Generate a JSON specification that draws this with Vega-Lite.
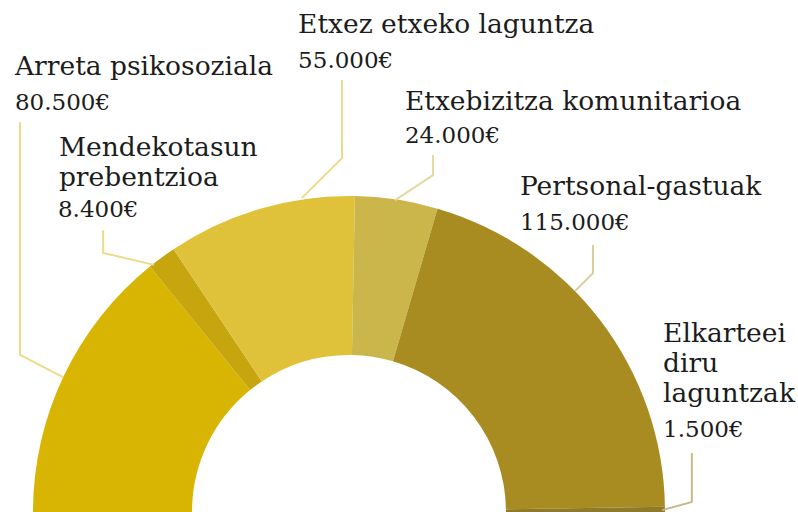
{
  "$schema": "https://vega.github.io/schema/vega-lite/v6.json",
  "width": 798,
  "height": 512,
  "autosize": {"type": "none"},
  "padding": 0,
  "background": "white",
  "view": {"stroke": null},
  "datasets": {
    "slices": [
      {"rank": 1, "category": "Arreta psikosoziala", "amount": 80500},
      {"rank": 2, "category": "Mendekotasun prebentzioa", "amount": 8400},
      {"rank": 3, "category": "Etxez etxeko laguntza", "amount": 55000},
      {"rank": 4, "category": "Etxebizitza komunitarioa", "amount": 24000},
      {"rank": 5, "category": "Pertsonal-gastuak", "amount": 115000},
      {"rank": 6, "category": "Elkarteei diru laguntzak", "amount": 1500}
    ],
    "leaders": [
      {"seg": "Arreta psikosoziala", "k": 0, "u": -104.1, "v": 123.4},
      {"seg": "Arreta psikosoziala", "k": 1, "u": -104.1, "v": 49.7},
      {"seg": "Arreta psikosoziala", "k": 2, "u": -90.5, "v": 42.7},
      {"seg": "Mendekotasun prebentzioa", "k": 0, "u": -77.8, "v": 89.2},
      {"seg": "Mendekotasun prebentzioa", "k": 1, "u": -77.8, "v": 82.0},
      {"seg": "Mendekotasun prebentzioa", "k": 2, "u": -61.7, "v": 78.2},
      {"seg": "Etxez etxeko laguntza", "k": 0, "u": -2.2, "v": 136.7},
      {"seg": "Etxez etxeko laguntza", "k": 1, "u": -2.2, "v": 112.0},
      {"seg": "Etxez etxeko laguntza", "k": 2, "u": -14.9, "v": 99.4},
      {"seg": "Etxebizitza komunitarioa", "k": 0, "u": 26.6, "v": 113.0},
      {"seg": "Etxebizitza komunitarioa", "k": 1, "u": 26.6, "v": 106.6},
      {"seg": "Etxebizitza komunitarioa", "k": 2, "u": 14.6, "v": 98.7},
      {"seg": "Pertsonal-gastuak", "k": 0, "u": 77.2, "v": 84.5},
      {"seg": "Pertsonal-gastuak", "k": 1, "u": 77.2, "v": 75.6},
      {"seg": "Pertsonal-gastuak", "k": 2, "u": 71.5, "v": 69.9},
      {"seg": "Elkarteei diru laguntzak", "k": 0, "u": 108.5, "v": 18.7},
      {"seg": "Elkarteei diru laguntzak", "k": 1, "u": 108.5, "v": 3.2},
      {"seg": "Elkarteei diru laguntzak", "k": 2, "u": 99.1, "v": 0.6}
    ],
    "names": [
      {"t": "Arreta psikosoziala", "u": -105.7, "v": 138.3},
      {"t": "Mendekotasun", "u": -91.8, "v": 112.7},
      {"t": "prebentzioa", "u": -91.8, "v": 103.2},
      {"t": "Etxez etxeko laguntza", "u": -16.1, "v": 151.6},
      {"t": "Etxebizitza komunitarioa", "u": 17.7, "v": 127.2},
      {"t": "Pertsonal-gastuak", "u": 54.1, "v": 100.3},
      {"t": "Elkarteei", "u": 99.4, "v": 53.8},
      {"t": "diru", "u": 99.4, "v": 44.3},
      {"t": "laguntzak", "u": 99.4, "v": 34.8}
    ],
    "values": [
      {"t": "80.500€", "u": -105.7, "v": 127.2},
      {"t": "8.400€", "u": -92.1, "v": 93.4},
      {"t": "55.000€", "u": -16.1, "v": 140.5},
      {"t": "24.000€", "u": 17.7, "v": 116.8},
      {"t": "115.000€", "u": 54.1, "v": 89.2},
      {"t": "1.500€", "u": 99.4, "v": 23.7}
    ]
  },
  "layer": [
    {
      "data": {"name": "slices"},
      "mark": {"type": "arc", "outerRadius": 316, "innerRadius": 157},
      "encoding": {
        "x": {"datum": 0, "type": "quantitative", "scale": {"domain": [-110.44, 142.09], "nice": false, "zero": false}, "axis": null},
        "y": {"datum": 0, "type": "quantitative", "scale": {"domain": [0, 162.03], "nice": false, "zero": false}, "axis": null},
        "theta": {"field": "amount", "type": "quantitative", "stack": true, "scale": {"range": [-1.5708, 1.5708]}},
        "color": {
          "field": "category", "type": "nominal", "legend": null,
          "scale": {
            "domain": ["Arreta psikosoziala", "Mendekotasun prebentzioa", "Etxez etxeko laguntza", "Etxebizitza komunitarioa", "Pertsonal-gastuak", "Elkarteei diru laguntzak"],
            "range": ["#D7B502", "#C6A50F", "#DFC23A", "#CAB64B", "#A88C22", "#8E7A2A"]
          }
        },
        "order": {"field": "rank", "type": "quantitative"}
      }
    },
    {
      "data": {"name": "leaders"},
      "mark": {"type": "line", "strokeWidth": 2},
      "encoding": {
        "x": {"field": "u", "type": "quantitative"},
        "y": {"field": "v", "type": "quantitative"},
        "order": {"field": "k", "type": "quantitative"},
        "stroke": {
          "field": "seg", "type": "nominal", "legend": null,
          "scale": {
            "domain": ["Arreta psikosoziala", "Mendekotasun prebentzioa", "Etxez etxeko laguntza", "Etxebizitza komunitarioa", "Pertsonal-gastuak", "Elkarteei diru laguntzak"],
            "range": ["#EDDA8A", "#EDDA8A", "#EDDA8A", "#E6D9A0", "#D8CC9C", "#C9B98A"]
          }
        }
      }
    },
    {
      "data": {"name": "names"},
      "mark": {"type": "text", "align": "left", "baseline": "alphabetic", "font": "DejaVu Serif", "fontSize": 26.5, "color": "#1c1c1c"},
      "encoding": {
        "x": {"field": "u", "type": "quantitative"},
        "y": {"field": "v", "type": "quantitative"},
        "text": {"field": "t"}
      }
    },
    {
      "data": {"name": "values"},
      "mark": {"type": "text", "align": "left", "baseline": "alphabetic", "font": "DejaVu Serif", "fontSize": 23, "color": "#1c1c1c"},
      "encoding": {
        "x": {"field": "u", "type": "quantitative"},
        "y": {"field": "v", "type": "quantitative"},
        "text": {"field": "t"}
      }
    }
  ]
}
